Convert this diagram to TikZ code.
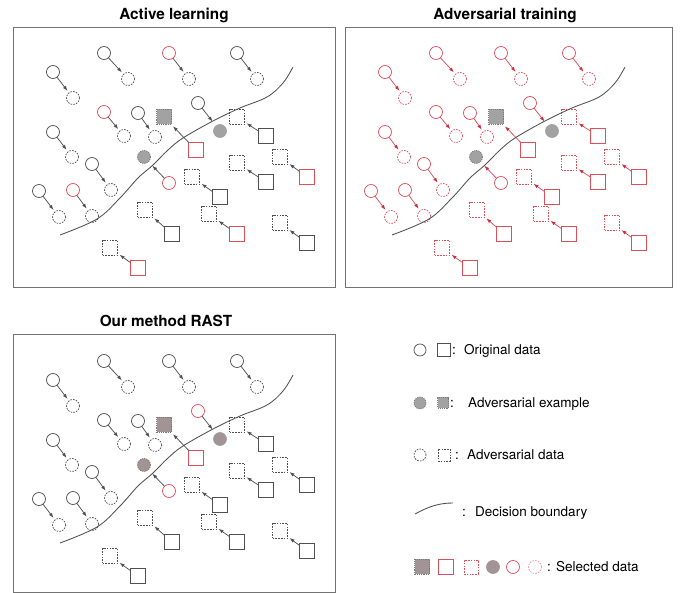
\documentclass[tikz,border=0pt]{standalone}
\usepackage{fontspec}
\setmainfont{TeX Gyre Heros}
\usetikzlibrary{arrows.meta}
\definecolor{myred}{RGB}{220,80,90}
\definecolor{arrred}{RGB}{205,45,60}
\definecolor{fillgray}{RGB}{162,162,162}
\definecolor{selgray}{RGB}{162,148,148}
\definecolor{linegray}{RGB}{80,80,80}
\tikzset{
 base/.style={inner sep=0pt, outer sep=0pt, line width=0.75pt, draw=linegray},
 oc/.style={base, circle, minimum size=13pt},
 os/.style={base, rectangle, minimum size=15pt},
 ac/.style={oc, dash pattern=on 1.6pt off 1.2pt},
 as/.style={os, dash pattern=on 1.6pt off 1.2pt},
 fc/.style={oc, fill=fillgray, draw=fillgray},
 fcd/.style={oc, fill=fillgray, draw=fillgray!75!black, dash pattern=on 1.2pt off 1pt},
 fs/.style={os, fill=fillgray, draw=fillgray!75!black, dash pattern=on 1.2pt off 1pt},
 arr/.style={-{Latex[length=5pt,width=3.6pt]}, line width=0.75pt, draw=linegray, shorten >=2.5pt},
 far/.style={shorten >=5.5pt},
 nar/.style={},
 bnd/.style={line width=0.85pt, draw=linegray},
 frame/.style={line width=0.9pt, draw=black!55},
 title/.style={font=\bfseries\fontsize{15.3}{18}\selectfont, inner sep=0pt},
 lt/.style={font=\fontsize{13.5}{16}\selectfont, inner sep=0pt, anchor=base west},
 ka/.style={}, kb/.style={}, kc/.style={}, kd/.style={}, adv/.style={}, fil/.style={}, arrc/.style={},
}
\newcommand{\cpair}[8]{%
 \node[#6] (#1o) at (#2,#3) {};
 \node[#7] (#1a) at (#4,#5) {};
 \draw[arr,arrc,#8] (#1o) -- (#1a);}
\newcommand{\panelbody}[1]{%
 \cpair{#1c1}{53}{72}{73}{98}{oc,kd}{ac,adv}{nar}
 \cpair{#1c2}{104}{53}{128}{79}{oc,kd}{ac,adv}{nar}
 \cpair{#1c3}{169}{53}{189}{79}{oc,ka}{ac,adv}{nar}
 \cpair{#1c4}{237}{53}{257}{79}{oc,kd}{ac,adv}{nar}
 \cpair{#1c5}{104}{112}{124}{136}{oc,ka}{ac,adv}{nar}
 \cpair{#1c6}{138}{113}{155}{137}{oc,kd}{ac,adv}{nar}
 \cpair{#1c7}{198}{103}{220}{131}{oc,kb}{fc,fil}{far}
 \cpair{#1c8}{53}{132}{72}{157}{oc,kd}{ac,adv}{nar}
 \cpair{#1c9}{92}{164}{111}{190}{oc,kd}{ac,adv}{nar}
 \cpair{#1c10}{39}{191}{59}{217}{oc,kd}{ac,adv}{nar}
 \cpair{#1c11}{73}{190}{92}{216}{oc,ka}{ac,adv}{nar}
 \cpair{#1c12}{169}{183}{144}{157}{oc,kc}{fcd,fil}{far}
 \cpair{#1s13}{196}{150}{164}{117}{os,kc}{fs,fil}{nar}
 \cpair{#1s14}{266}{136}{237}{117}{os,kd}{as,adv}{nar}
 \cpair{#1s15}{220}{197}{192}{177}{os,kd}{as,adv}{nar}
 \cpair{#1s16}{266}{182}{237}{163}{os,kd}{as,adv}{nar}
 \cpair{#1s17}{307}{177}{280}{157}{os,ka}{as,adv}{nar}
 \cpair{#1s18}{172}{234}{145}{210}{os,kd}{as,adv}{nar}
 \cpair{#1s19}{237}{234}{209}{214}{os,ka}{as,adv}{nar}
 \cpair{#1s20}{307}{243}{280}{223}{os,kd}{as,adv}{nar}
 \cpair{#1s21}{138}{268}{110}{248}{os,ka}{as,adv}{nar}
 \draw[bnd] plot[smooth, tension=0.6] coordinates {(60,235) (97,219) (120,198) (138,178) (153,165) (168,150) (183,138) (213,121) (240,108) (267,97) (283,83) (293,67)};
}
\begin{document}
\begin{tikzpicture}[x=1pt,y=-1pt]
\useasboundingbox (0,0) rectangle (681,593);
% panel 1
\node[title] (t1) at (174,15) {Active learning};
\draw[frame] (13,27) rectangle (335,287);
\begin{scope}[ka/.style={draw=myred}, kc/.style={draw=myred}]
\panelbody{A}
\end{scope}
% panel 2
\node[title] (t2) at (505,15) {Adversarial training};
\draw[frame] (345,27) rectangle (672,287);
\begin{scope}[shift={(332,0)}, ka/.style={draw=myred}, kb/.style={draw=myred}, kc/.style={draw=myred}, kd/.style={draw=myred}, adv/.style={draw=myred}, arrc/.style={draw=myred, -{Latex[length=5pt,width=3.6pt,fill=arrred,color=arrred]}}]
\panelbody{B}
\end{scope}
% panel 3
\node[title] (t3) at (166,321) {Our method RAST};
\draw[frame] (13,334) rectangle (335,592);
\begin{scope}[shift={(0,308)}, kb/.style={draw=myred}, kc/.style={draw=myred}, fil/.style={fill=selgray}]
\panelbody{C}
\end{scope}
% legend
\node[oc, minimum size=12pt] (l1a) at (420,350) {};
\node[os, minimum size=13pt] (l1b) at (444,350) {};
\node[lt] (l1c) at (452,354.8) {:};
\node[lt] (l1t) at (464,354.8) {Original data};
\node[fcd, minimum size=12pt] (l2a) at (420,403) {};
\node[fs, minimum size=11pt] (l2b) at (443,403) {};
\node[lt] (l2c) at (450,407.8) {:};
\node[lt] (l2t) at (468,407.8) {Adversarial example};
\node[ac, minimum size=12pt] (l3a) at (420,455) {};
\node[as, minimum size=12pt] (l3b) at (444,455) {};
\node[lt] (l3c) at (455,459.8) {:};
\node[lt] (l3t) at (467,459.8) {Adversarial data};
\coordinate (l4s) at (415,514);
\coordinate (l4e) at (453,503);
\draw[bnd] (l4s) .. controls (428,507) and (438,503) .. (l4e);
\node[lt] (l4c) at (462,516.8) {:};
\node[lt] (l4t) at (475,516.8) {Decision boundary};
\node[fs, minimum size=15pt, fill=selgray] (l5a) at (422,567) {};
\node[os, draw=myred, minimum size=15pt] (l5b) at (446,567) {};
\node[as, draw=myred, minimum size=14pt] (l5c) at (471,567) {};
\node[fc, fill=selgray, draw=selgray, minimum size=13pt] (l5d) at (493,567) {};
\node[oc, draw=myred, minimum size=13pt] (l5e) at (513,567) {};
\node[ac, draw=myred!60, minimum size=13pt] (l5f) at (535,567) {};
\node[lt] (l5g) at (547,571.8) {:};
\node[lt] (l5t) at (556,571.8) {Selected data};
\end{tikzpicture}
\end{document}
